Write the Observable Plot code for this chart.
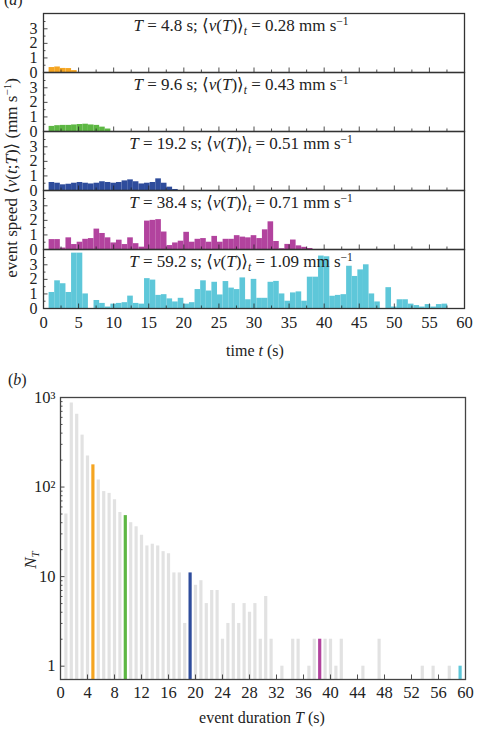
<!DOCTYPE html>
<html>
<head>
<meta charset="utf-8">
<script src="https://cdn.jsdelivr.net/npm/d3@7"></script>
<script src="https://cdn.jsdelivr.net/npm/@observablehq/plot@0.6"></script>
<style>
  body { margin: 0; background: #fff; }
  #wrap { position: relative; width: 477px; height: 729px; overflow: hidden; font-family: "Liberation Serif", "DejaVu Serif", serif; color: #222; }
  #wrap svg { display: block; }
  .lbl { position: absolute; font-size: 16px; white-space: nowrap; line-height: 1; }
  .big { font-size: 17px; }
  .rot { transform: translate(-50%, -50%) rotate(-90deg); transform-origin: center; }
  .ctr { transform: translate(-50%, -50%); }
  sup { font-size: 11px; vertical-align: 6px; line-height: 0; }
  sub { font-size: 11px; vertical-align: -3px; line-height: 0; }
</style>
</head>
<body>
<div id="wrap">
  <div id="pa"></div>
  <div id="pb"></div>
  <div class="lbl" style="left:4px;top:-8px;">(<i>a</i>)</div>
  <div class="lbl" style="left:8px;top:372px;">(<i>b</i>)</div>
  <div class="lbl big rot" style="left:11px;top:178px;">event speed ⟨<i>v</i>(<i>t</i>;<i>T</i>)⟩ (mm s<sup>−1</sup>)</div>
  <div class="lbl ctr" style="left:255px;top:351px;">time <i>t</i> (s)</div>
  <div class="lbl big rot" style="left:30px;top:560px;"><i>N</i><sub><i>T</i></sub></div>
  <div class="lbl ctr" style="left:262px;top:718px;">event duration <i>T</i> (s)</div>
</div>
<script>
// ---------- data: panel (a) ----------
const seriesKeys = ["4.8", "9.6", "19.2", "38.4", "59.2"];
const seriesMeans = ["0.28", "0.43", "0.51", "0.71", "1.09"];
const seriesColors = ["#f5a521", "#5db743", "#2e4c9c", "#b2439e", "#5ec7d9"];
const binWidth = 0.8;

// mean event speed per 0.8 s bin (mm/s), bins starting at 0.8 s
const speedT4_8 = [0.34, 0.38, 0.28, 0.27, 0.13];
const speedT9_6 = [0.35, 0.40, 0.42, 0.42, 0.45, 0.48, 0.50, 0.45, 0.42, 0.30, 0.17];
const speedT19_2 = [0.55, 0.50, 0.39, 0.43, 0.50, 0.55, 0.50, 0.45, 0.50, 0.60, 0.55, 0.50,
  0.55, 0.66, 0.73, 0.60, 0.45, 0.50, 0.55, 0.80, 0.50, 0.23, 0.07];
const speedT38_4 = [0.68, 0.68, 0.10, 0.80, 0.34, 0.50, 0.70, 0.75, 1.40, 1.10, 0.80, 0.45,
  0.64, 0.34, 0.80, 0.40, 0.16, 1.95, 2.00, 2.05, 1.20, 0.27, 0.45, 0.57, 1.18, 0.50,
  0.70, 0.75, 0.50, 0.90, 0.50, 0.70, 0.70, 0.95, 0.85, 0.80, 0.95, 0.75, 1.35, 1.90,
  0.55, 0.05, 0.35, 0.65, 0.25, 0.15, 0.07];
const speedT59_2 = [1.10, 1.90, 1.70, 1.10, 3.80, 3.80, 1.00, 0.00, 0.55, 0.35, 0.10, 0.30,
  0.35, 0.40, 0.85, 0.35, 0.30, 2.05, 1.95, 0.90, 0.95, 0.66, 0.45, 0.70, 0.30, 0.40,
  1.30, 1.90, 1.20, 1.80, 0.93, 1.85, 1.40, 1.30, 2.10, 0.60, 2.00, 0.70, 0.70, 1.80,
  1.86, 1.00, 0.50, 1.07, 1.14, 0.50, 2.15, 2.15, 3.60, 3.55, 0.84, 0.90, 0.95, 2.90,
  2.20, 2.65, 3.00, 1.00, 0.45, 0.00, 1.43, 0.10, 0.60, 0.60, 0.30, 0.20, 0.10, 0.27,
  0.10, 0.27, 0.30, 0.00, 0.00];
const speedSeries = [speedT4_8, speedT9_6, speedT19_2, speedT38_4, speedT59_2];

// ---------- data: panel (b) ----------
const durationT = [0.8, 1.6, 2.4, 3.2, 4.0, 4.8, 5.6, 6.4, 7.2, 8.0, 8.8, 9.6, 10.4, 11.2, 12.0,
  12.8, 13.6, 14.4, 15.2, 16.0, 16.8, 17.6, 18.4, 19.2, 20.0, 20.8, 21.6, 22.4, 23.2, 24.0,
  24.8, 25.6, 26.4, 27.2, 28.0, 28.8, 29.6, 30.4, 31.2, 32.0, 32.8, 33.6, 34.4, 35.2, 36.0,
  36.8, 37.6, 38.4, 39.2, 40.0, 40.8, 41.6, 42.4, 43.2, 44.0, 44.8, 45.6, 46.4, 47.2, 48.0,
  48.8, 49.6, 50.4, 51.2, 52.0, 52.8, 53.6, 54.4, 55.2, 56.0, 56.8, 57.6, 58.4, 59.2];
const countN = [50, 870, 650, 380, 222, 177, 120, 89, 85, 72, 52, 48, 40, 36, 29,
  22, 23, 22, 19, 18, 11, 11, 3, 11, 8, 9, 5, 7, 7, 2,
  3, 5, 3, 5, 4, 5, 2, 6, 2, 0, 1, 0, 2, 2, 0,
  1, 2, 2, 2, 2, 1, 2, 0, 0, 0, 1, 0, 0, 2, 0,
  0, 0, 0, 0, 0, 0, 1, 0, 1, 0, 0, 1, 0, 1];
const greyBar = "#e2e2e2";

// ---------- tick values ----------
const xTicksA = [0, 5, 10, 15, 20, 25, 30, 35, 40, 45, 50, 55, 60];
const xMinorA = [2.5, 7.5, 12.5, 17.5, 22.5, 27.5, 32.5, 37.5, 42.5, 47.5, 52.5, 57.5];
const yTicksA = [0, 1, 2, 3];
const yMinorA = [0.5, 1.5, 2.5, 3.5];
const xTicksB = [0, 4, 8, 12, 16, 20, 24, 28, 32, 36, 40, 44, 48, 52, 56, 60];
const yTicksB = [1, 10, 100, 1000];
const yTickLabelsB = ["1", "10", "10²", "10³"];
const yMinorB = [2, 3, 4, 5, 6, 7, 8, 9, 20, 30, 40, 50, 60, 70, 80, 90, 200, 300, 400, 500, 600, 700, 800, 900];
const yFloorB = 0.71;

// ---------- build tables ----------
const speedRows = [];
speedSeries.forEach((arr, s) => {
  arr.forEach((v, i) => {
    speedRows.push({series: seriesKeys[s], t1: durationT[i], t2: durationT[i] + binWidth, v});
  });
});
const annotRows = seriesKeys.map((k, i) => ({
  series: k,
  label: `T = ${k} s; ⟨v(T)⟩t = ${seriesMeans[i]} mm s−1`
}));
const durRows = durationT.map((T, i) => {
  const j = seriesKeys.indexOf(String(T));
  return {T, N: countN[i], color: j >= 0 ? seriesColors[j] : greyBar};
}).filter(d => d.N > 0);

const baseStyle = {fontFamily: "'Liberation Serif', 'DejaVu Serif', serif", fontSize: "16px", color: "#222", background: "transparent", overflow: "visible"};

// ---------- panel (a) ----------
const pa = Plot.plot({
  width: 477, height: 370,
  marginTop: 12, marginBottom: 62, marginLeft: 43, marginRight: 13,
  style: baseStyle,
  x: {domain: [0, 60], label: null},
  y: {domain: [0, 4.05], label: null},
  fy: {domain: seriesKeys, padding: 0, axis: null, label: null},
  color: {domain: seriesKeys, range: seriesColors},
  marks: [
    Plot.rectY(speedRows, {x1: "t1", x2: "t2", y: "v", fill: "series", fy: "series"}),
    Plot.text(annotRows, {fy: "series", text: "label", frameAnchor: "top", lineAnchor: "top", dx: -13, dy: 5, fontSize: 17, fill: "#222"}),
    Plot.axisY({ticks: yMinorA, tickSize: -2.5, text: null, label: null, strokeWidth: 0.8}),
    Plot.axisY({ticks: yTicksA, tickSize: -4.5, text: null, label: null, strokeWidth: 0.8}),
    Plot.axisY({ticks: yTicksA, tickSize: 0, tickPadding: 6, label: null, fontSize: 16, tickFormat: d => String(d)}),
    Plot.axisX({ticks: xMinorA, tickSize: -2.5, text: null, label: null, facetAnchor: null, strokeWidth: 0.8}),
    Plot.axisX({ticks: xTicksA, tickSize: -4.5, text: null, label: null, facetAnchor: null, strokeWidth: 0.8}),
    Plot.axisX({ticks: xTicksA, tickSize: 0, tickPadding: 8, label: null, fontSize: 16.5, tickFormat: d => String(d)}),
    Plot.frame({stroke: "#333", strokeWidth: 1.3})
  ]
});
document.getElementById("pa").appendChild(pa);

// rich formatting of panel annotations
pa.querySelectorAll("text").forEach(el => {
  const m = el.textContent.match(/^T = (\S+) s; ⟨v\(T\)⟩t = (\S+) mm s−1$/);
  if (!m) return;
  el.textContent = "";
  const parts = [
    {t: "T", it: true}, {t: ` = ${m[1]} s; ⟨`}, {t: "v", it: true}, {t: "("}, {t: "T", it: true},
    {t: ")⟩"}, {t: "t", it: true, sub: true}, {t: ` = ${m[2]} mm s`}, {t: "−1", sup: true}
  ];
  let shift = 0;
  parts.forEach(p => {
    const ts = document.createElementNS("http://www.w3.org/2000/svg", "tspan");
    ts.textContent = p.t;
    if (p.it) ts.setAttribute("font-style", "italic");
    let target = p.sub ? 4 : p.sup ? -6 : 0;
    if (p.sub || p.sup) ts.setAttribute("font-size", "11.5");
    if (target !== shift) { ts.setAttribute("dy", String(target - shift)); shift = target; }
    el.appendChild(ts);
  });
});

// ---------- panel (b) ----------
const pb = Plot.plot({
  width: 477, height: 359,
  marginTop: 27, marginBottom: 50, marginLeft: 60, marginRight: 12,
  style: baseStyle,
  x: {domain: [0, 60], label: null},
  y: {type: "log", domain: [yFloorB, 1000], label: null},
  color: {type: "identity"},
  marks: [
    Plot.ruleX(durRows, {x: "T", y1: yFloorB, y2: "N", stroke: "color", strokeWidth: 3.2}),
    Plot.axisX({ticks: xTicksB, tickSize: -4.5, text: null, label: null, strokeWidth: 0.8}),
    Plot.axisX({ticks: xTicksB, tickSize: 0, tickPadding: 7, label: null, fontSize: 16.5, tickFormat: d => String(d)}),
    Plot.axisY({ticks: yMinorB, tickSize: -2.5, text: null, label: null, strokeWidth: 0.8}),
    Plot.axisY({ticks: yTicksB, tickSize: -4.5, text: null, label: null, strokeWidth: 0.8}),
    Plot.axisY({ticks: yTicksB, tickSize: 0, tickPadding: 5, label: null, fontSize: 16.5,
      tickFormat: d => yTickLabelsB[yTicksB.indexOf(d)]}),
    Plot.frame({stroke: "#444", strokeWidth: 1.3})
  ]
});
document.getElementById("pb").appendChild(pb);
</script>
</body>
</html>
